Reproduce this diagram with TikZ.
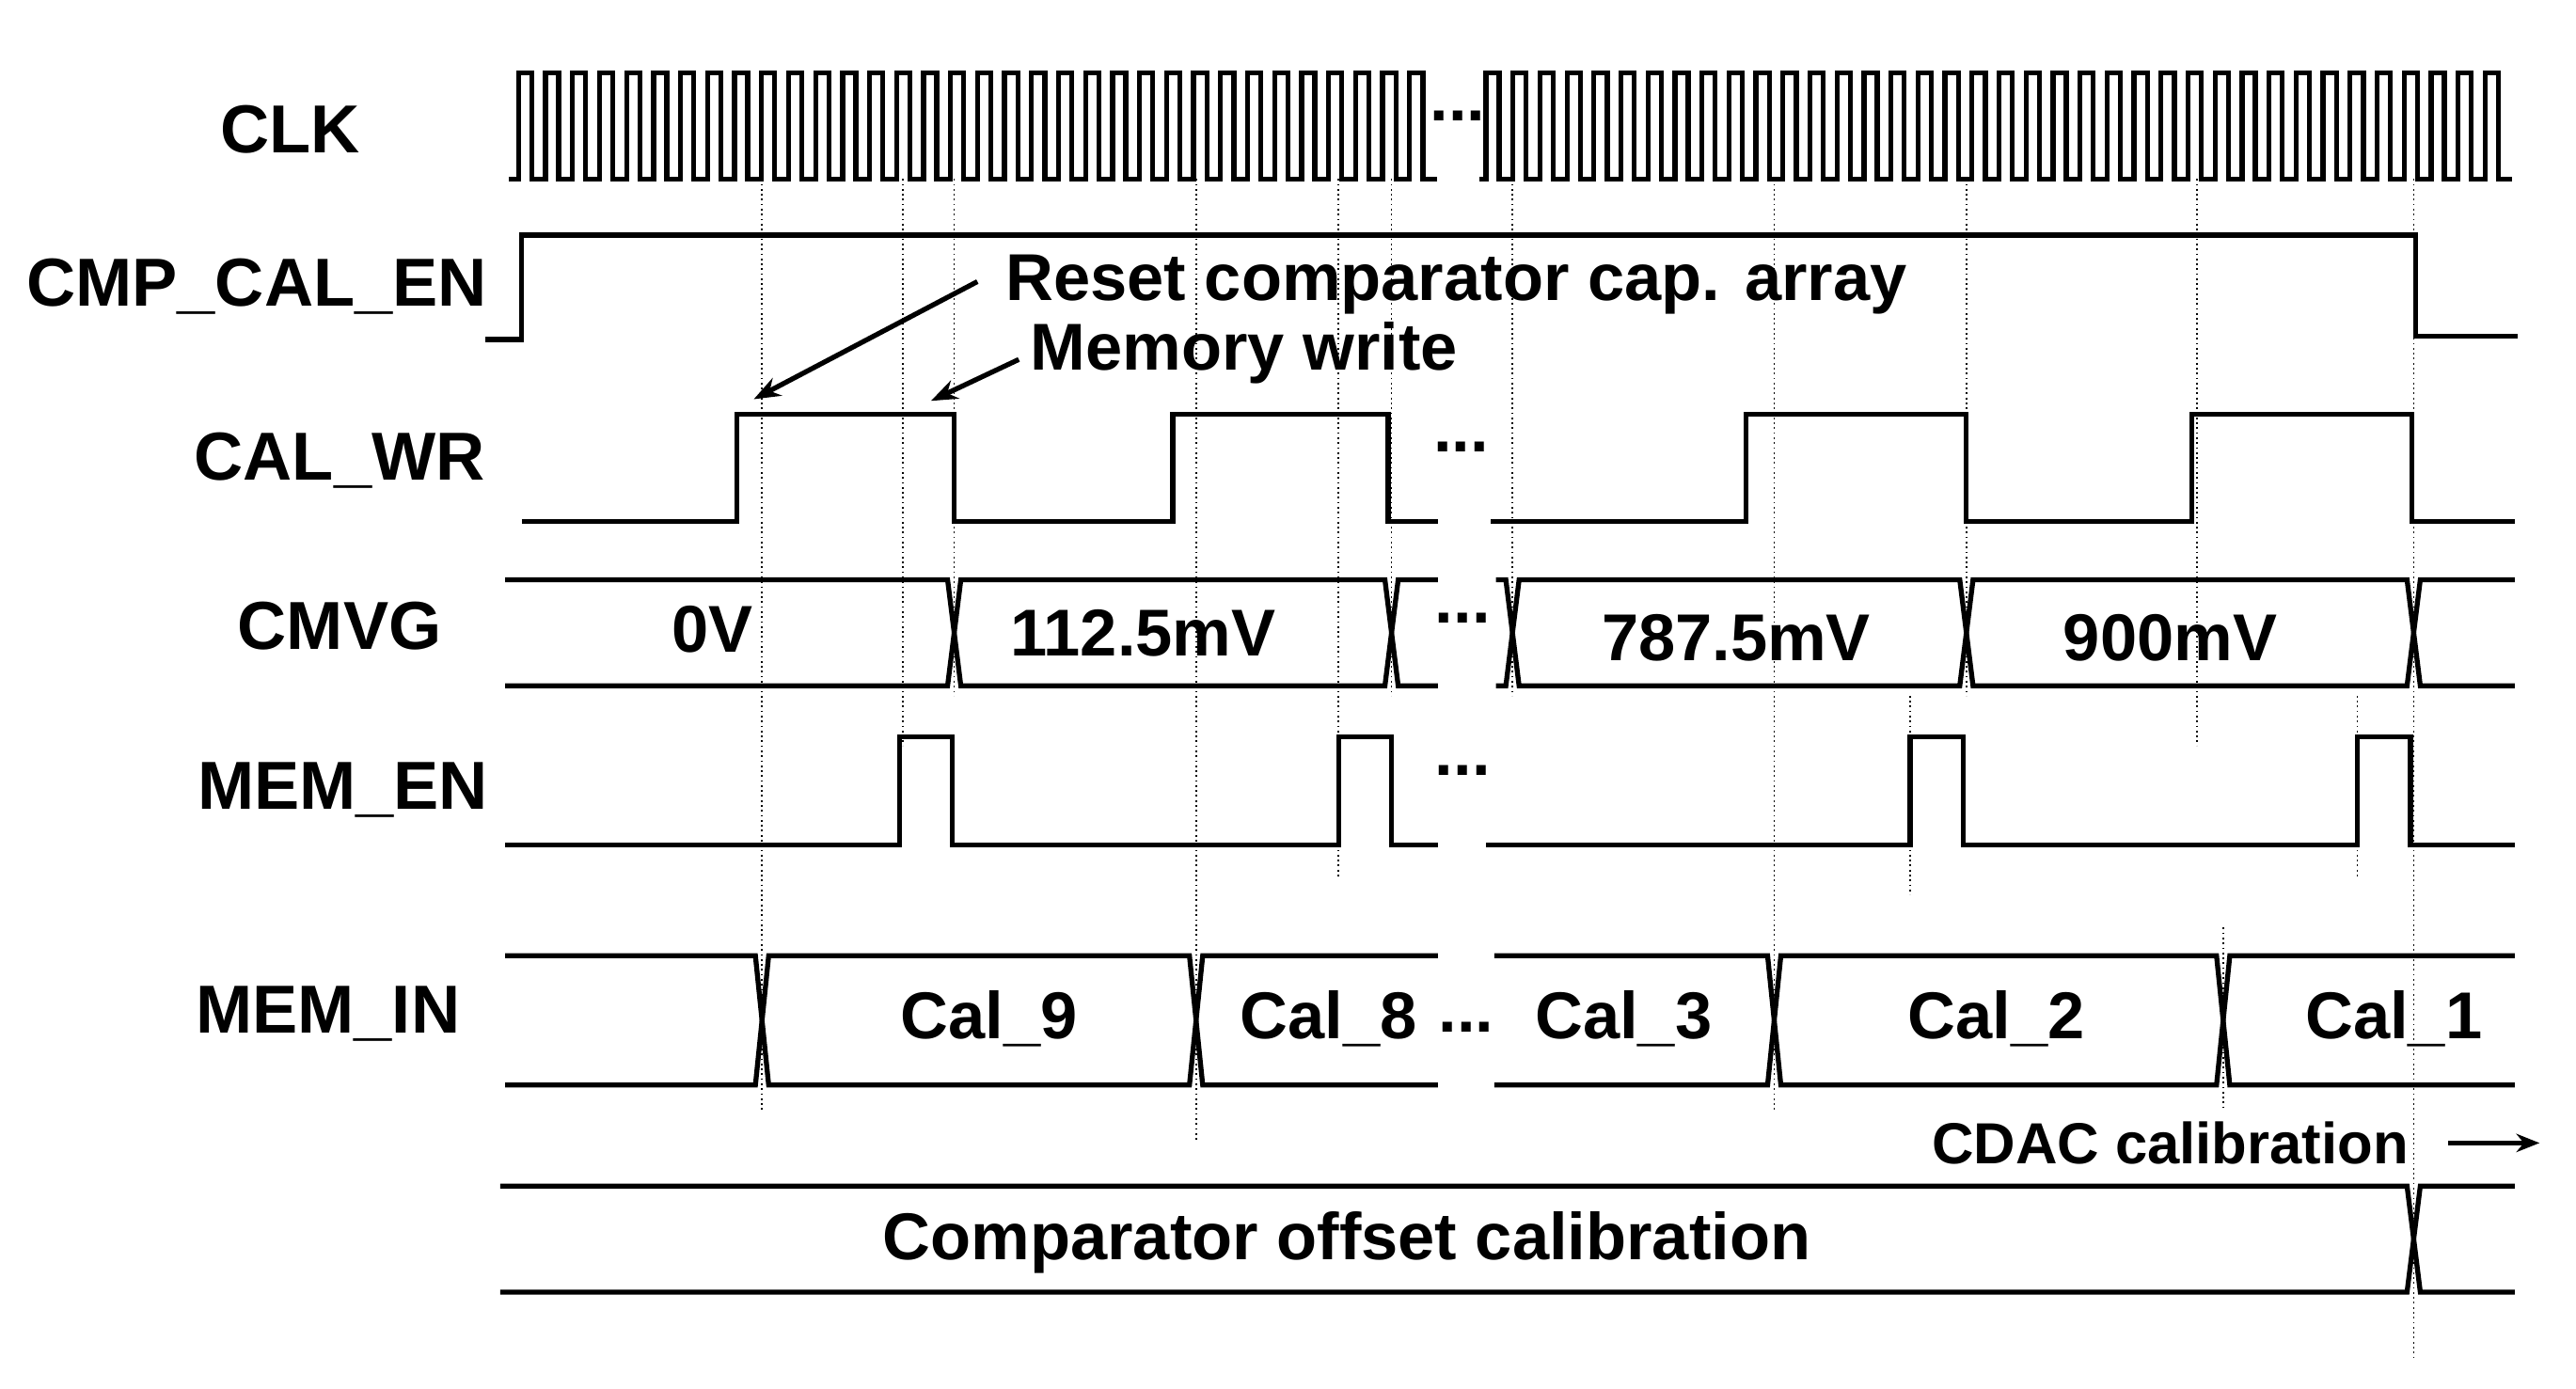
\documentclass[tikz,border=0pt]{standalone}
\usepackage{fontspec}
\setmainfont{Liberation Sans}
\usetikzlibrary{arrows.meta}
\tikzset{sig/.style={line width=3pt,line join=miter},
  vdot/.style={line width=1pt,dotted},
  lab/.style={font=\fontsize{41}{44}\selectfont\bfseries,inner sep=0pt},
  val/.style={font=\fontsize{40}{44}\selectfont\bfseries,inner sep=0pt}}
\begin{document}
\begin{tikzpicture}[x=1pt,y=-1pt]
\useasboundingbox (0,0) rectangle (1555,838);
% dotted guides
\foreach \x/\a/\b in {460/108/670,545/108/450,576/108/420,722/108/688,808/108/530,840/108/420,913/108/420,1071/108/670,1153/420/540,1187/108/420,1326/108/450,1342/560/670,1423/420/530,1457/108/820}
  \draw[vdot] (\x,\a) -- (\x,\b);
% labels
\node[lab] (lclk) at (175,78) {CLK};
\node[lab] (lcmp) at (155,173) {CMP\_CAL\_EN};
\node[lab] (lwr) at (205,278) {CAL\_WR};
\node[lab] (lcmvg) at (205,378) {CMVG};
\node[lab] (len) at (207,477) {MEM\_EN};
\node[lab] (lin) at (198,612) {MEM\_IN};
% CLK
\draw[sig] (307,108) -- (313,108)
  \foreach \i in {0,...,33} {-- ({313+\i*16.3},44) -- ({321+\i*16.3},44) -- ({321+\i*16.3},108) -- ({329.3+\i*16.3},108)} ;
\draw[sig] (893,108) -- (897,108)
  \foreach \i in {0,...,37} {-- ({897+\i*16.3},44) -- ({905+\i*16.3},44) -- ({905+\i*16.3},108) -- ({913.3+\i*16.3},108)} ;
\node[val] (d0) at (880,70) {...};
% CMP_CAL_EN
\draw[sig] (293,205) -- (315,205) -- (315,142) -- (1458,142) -- (1458,203) -- (1520,203);
% CAL_WR
\draw[sig] (315,315) -- (445,315) -- (445,250) -- (576,250) -- (576,315) -- (708,315) -- (708,250) -- (838,250) -- (838,315) -- (868,315);
\draw[sig] (900,315) -- (1054,315) -- (1054,250) -- (1187,250) -- (1187,315) -- (1323,315) -- (1323,250) -- (1456,250) -- (1456,315) -- (1518,315);
\node[val] (d1) at (882,270) {...};
% CMVG
\draw[sig] (305,350) -- (572,350) -- (580,414) -- (836,414) -- (844,350) -- (868,350);
\draw[sig] (305,414) -- (572,414) -- (580,350) -- (836,350) -- (844,414) -- (868,414);
\draw[sig] (903,350) -- (909,350) -- (917,414) -- (1183,414) -- (1191,350) -- (1453,350) -- (1461,414) -- (1518,414);
\draw[sig] (903,414) -- (909,414) -- (917,350) -- (1183,350) -- (1191,414) -- (1453,414) -- (1461,350) -- (1518,350);
\node[val] (d2) at (883,373) {...};
\node[val] (v0) at (430,380) {0V};
\node[val] (v1) at (690,382) {112.5mV};
\node[val] (v2) at (1048,385) {787.5mV};
\node[val] (v3) at (1310,385) {900mV};
% MEM_EN
\draw[sig] (305,510) -- (543,510) -- (543,445) -- (575,445) -- (575,510) -- (808,510) -- (808,445) -- (840,445) -- (840,510) -- (868,510);
\draw[sig] (897,510) -- (1153,510) -- (1153,445) -- (1185,445) -- (1185,510) -- (1423,510) -- (1423,445) -- (1455,445) -- (1455,510) -- (1518,510);
\node[val] (d3) at (883,465) {...};
% MEM_IN
\draw[sig] (305,577) -- (456,577) -- (464,655) -- (718,655) -- (726,577) -- (868,577);
\draw[sig] (305,655) -- (456,655) -- (464,577) -- (718,577) -- (726,655) -- (868,655);
\draw[sig] (902,577) -- (1067,577) -- (1075,655) -- (1338,655) -- (1346,577) -- (1518,577);
\draw[sig] (902,655) -- (1067,655) -- (1075,577) -- (1338,577) -- (1346,655) -- (1518,655);
\node[val] (c9) at (597,615) {Cal\_9};
\node[val] (c8) at (802,615) {Cal\_8};
\node[val] (d4) at (885,620) {...};
\node[val] (c3) at (980,615) {Cal\_3};
\node[val] (c2) at (1205,615) {Cal\_2};
\node[val] (c1) at (1445,615) {Cal\_1};
% CDAC
\node[val,font=\fontsize{35}{38}\selectfont\bfseries] (cdac) at (1310,690) {CDAC calibration};
\coordinate (as) at (1478,690);
\coordinate (ae) at (1533,690);
\draw[line width=3pt,-{Stealth[length=14pt,width=11pt]}] (as) -- (ae);
% comparator offset
\draw[sig] (302,716) -- (1453,716) -- (1461,780) -- (1518,780);
\draw[sig] (302,780) -- (1453,780) -- (1461,716) -- (1518,716);
\node[val] (coc) at (813,750) {Comparator offset calibration};
% annotations
\node[val,anchor=west] (rst) at (607,172) {Reset comparator cap. array};
\node[val,anchor=west] (mw) at (622,213) {Memory write};
\coordinate (t1) at (455,241);
\coordinate (t2) at (562,242);
\draw[line width=3pt,-{Stealth[length=16pt,width=12pt]}] (590,170) -- (t1);
\draw[line width=3pt,-{Stealth[length=16pt,width=12pt]}] (615,217) -- (t2);
\end{tikzpicture}
\end{document}
